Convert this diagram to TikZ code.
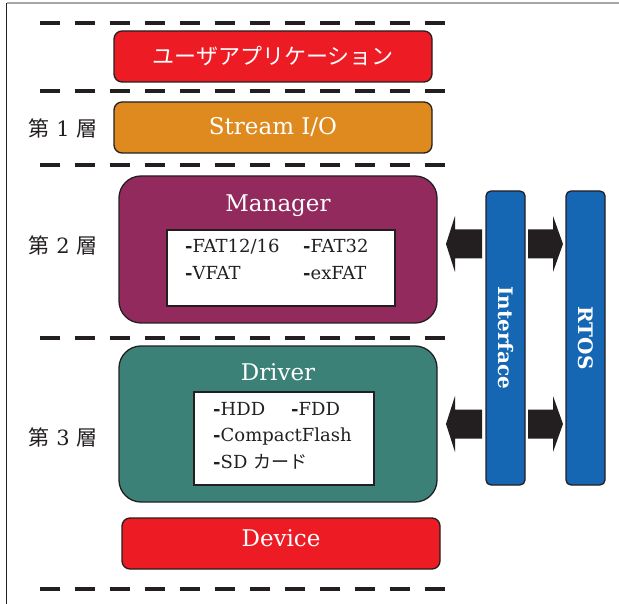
\documentclass[tikz,border=0pt]{standalone}
\usepackage{fontspec}
\setmainfont{DejaVu Serif}
\newfontfamily\jpfont{Noto Sans CJK JP}
\definecolor{ink}{HTML}{231F20}
\definecolor{appred}{HTML}{ED1C24}
\definecolor{streamorange}{HTML}{DF8A1E}
\definecolor{mgrpurple}{HTML}{932A5E}
\definecolor{drvteal}{HTML}{3C8177}
\definecolor{barblue}{HTML}{1567B3}
\newcommand{\fs}[1]{\fontsize{#1}{#1}\selectfont}

\begin{document}
\begin{tikzpicture}[x=1pt,y=-1pt,
  flatbox/.style={draw=ink, line width=1.3pt, rounded corners=8pt,
    minimum width=318pt, minimum height=51pt, inner sep=0pt, text=white},
  bigbox/.style={draw=ink, line width=1.3pt, rounded corners=22pt,
    minimum width=318pt, inner sep=0pt},
  listbox/.style={draw=ink, line width=1.5pt, fill=white, inner sep=0pt},
  listitem/.style={anchor=base west, inner sep=0pt, text=ink, font=\fs{18}},
  title/.style={anchor=base, inner sep=0pt, text=white, font=\fs{23}},
  layerlabel/.style={inner sep=0pt, text=ink, font=\fs{21}},
  bar/.style={draw=ink, line width=1.3pt, fill=barblue, rounded corners=5pt,
    minimum width=39pt, minimum height=294pt, inner sep=0pt},
  bartext/.style={rotate=-90, text=white, font=\bfseries\fs{20}, inner sep=0pt},
  separator/.style={draw=ink, line width=4.5pt, dash pattern=on 20pt off 15pt},
  blockarrow/.style={fill=ink, draw=none}]
\useasboundingbox (0,0) rectangle (619,604);

% frame
\draw[gray!70, line width=1.5pt] (6.5,3) -- (619,3);
\draw[ink, line width=1.2pt] (6.5,3) -- (6.5,604);

% layer separators
\foreach \y in {23,91,165,338,589}
  \draw[separator] (39.5,\y) -- (447,\y);

% layer labels
\node[layerlabel] (l1) at (63,128) {{\jpfont 第} 1 {\jpfont 層}};
\node[layerlabel] (l2) at (63,245) {{\jpfont 第} 2 {\jpfont 層}};
\node[layerlabel] (l3) at (63,437) {{\jpfont 第} 3 {\jpfont 層}};

% application layer and stream layer
\node[flatbox, fill=appred, font=\jpfont\fs{22}] (app) at (273,56.5) {ユーザアプリケーション};
\node[flatbox, fill=streamorange] (stream) at (273,127.5) {};
\node[title] (streamtitle) at (273,135) {Stream I/O};

% manager
\node[bigbox, fill=mgrpurple, minimum height=147pt] (mgr) at (278,249.5) {};
\node[title] (mgrtitle) at (278,211.5) {Manager};
\node[listbox, minimum width=228pt, minimum height=76pt] (mgrlist) at (281,268) {};
\node[listitem] (fat16) at (185,253) {\textbf{-}FAT12/16};
\node[listitem] (fat32) at (303,253) {\textbf{-}FAT32};
\node[listitem] (vfat) at (185,280) {\textbf{-}VFAT};
\node[listitem] (exfat) at (303,280) {\textbf{-}exFAT};

% driver
\node[bigbox, fill=drvteal, minimum height=156pt] (drv) at (278,424) {};
\node[title] (drvtitle) at (278,380.5) {Driver};
\node[listbox, minimum width=180pt, minimum height=93pt] (drvlist) at (284,438.5) {};
\node[listitem] (hdd) at (213,415) {\textbf{-}HDD};
\node[listitem] (fdd) at (291,415) {\textbf{-}FDD};
\node[listitem] (cf) at (213,441) {\textbf{-}CompactFlash};
\node[listitem] (sd) at (213,468) {\textbf{-}SD {\jpfont カード}};

% device
\node[flatbox, fill=appred] (dev) at (281,543.5) {};
\node[title] (devtitle) at (281,546.5) {Device};

% interface and RTOS
\node[bar] (iface) at (505.5,338) {};
\node[bartext] (ifacetext) at (iface.center) {Interface};
\node[bar] (rtos) at (585.5,338) {};
\node[bartext] (rtostext) at (rtos.center) {RTOS};

% block arrows: interface to layers, interface to RTOS
\foreach \yc in {244,424} {
  \fill[blockarrow] (482,\yc-14.5) -- (455,\yc-14.5) -- (455,\yc-28)
    -- (446,\yc) -- (455,\yc+28) -- (455,\yc+14.5) -- (482,\yc+14.5) -- cycle;
  \fill[blockarrow] (528,\yc-14.5) -- (553,\yc-14.5) -- (553,\yc-28)
    -- (563,\yc) -- (553,\yc+28) -- (553,\yc+14.5) -- (528,\yc+14.5) -- cycle;
}
\end{tikzpicture}
\end{document}
